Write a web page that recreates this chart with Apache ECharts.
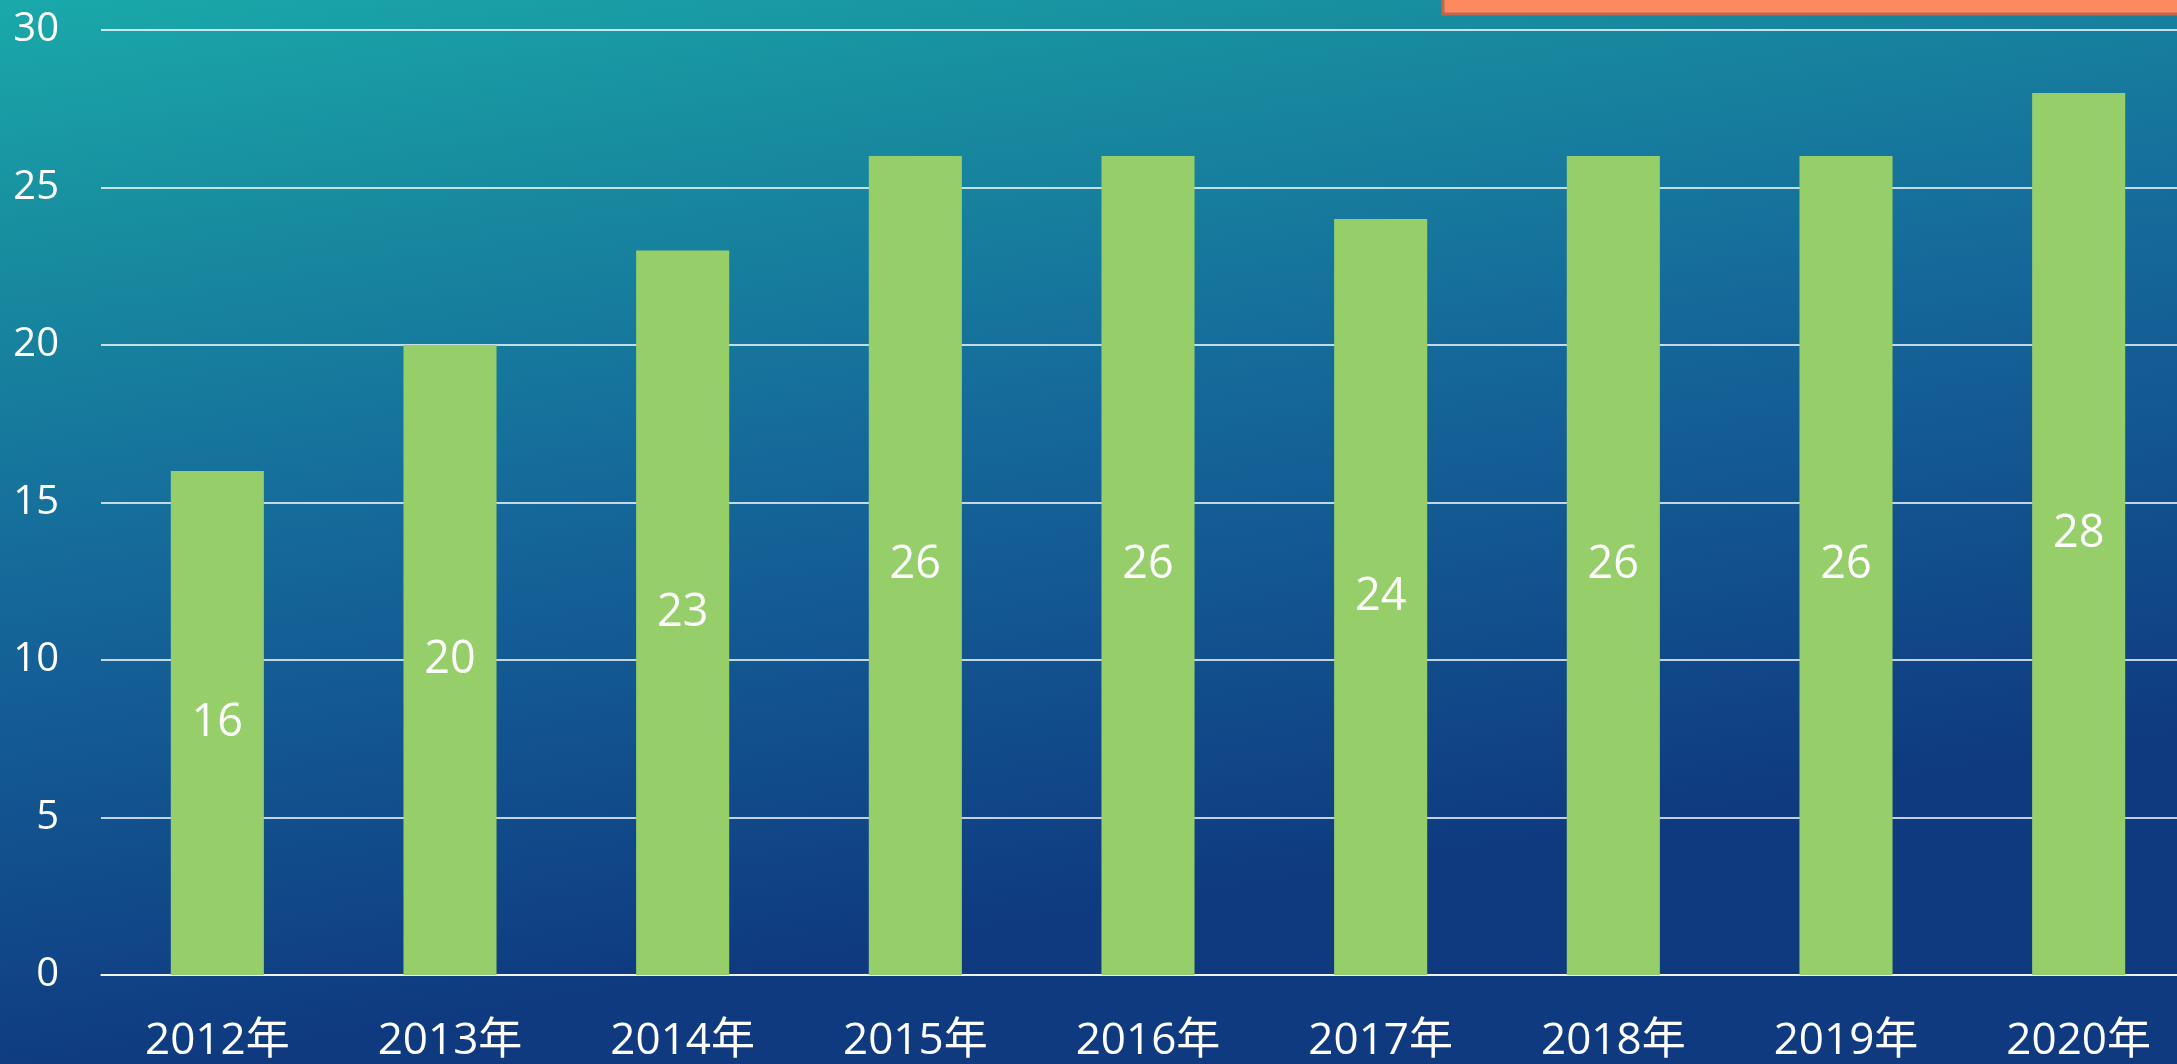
<!DOCTYPE html>
<html>
<head>
<meta charset="utf-8">
<script src="https://cdn.jsdelivr.net/npm/echarts@6/dist/echarts.min.js"></script>
<style>
  html, body { margin: 0; padding: 0; }
  #main { width: 2177px; height: 1064px; }
</style>
</head>
<body>
<div id="main"></div>
<script>
// data
const years = ['2012年', '2013年', '2014年', '2015年', '2016年', '2017年', '2018年', '2019年', '2020年']
const counts = [16, 20, 23, 26, 26, 24, 26, 26, 28]
const yTicks = [0, 5, 10, 15, 20, 25, 30]

const font = "'Open Sans', 'Noto Sans CJK SC', sans-serif"
const myChart = echarts.init(document.getElementById('main'))

const option = {
  backgroundColor: {
    type: 'linear', x: 0, y: 0, x2: 0.08, y2: 1,
    colorStops: [
      { offset: 0, color: '#1AA9AA' },
      { offset: 0.2, color: '#1890A0' },
      { offset: 0.55, color: '#15679A' },
      { offset: 1, color: '#0F3A80' }
    ]
  },
  animation: false,
  // plot runs past the right edge of the canvas
  grid: { left: 101, width: 2094, top: 30, height: 945, outerBoundsMode: 'none' },
  graphic: [
    {
      // orange title box cut off at the top
      type: 'rect',
      shape: { x: 1443, y: -12, width: 780, height: 26 },
      style: { fill: '#FC8A60', stroke: '#C4664A', lineWidth: 3 }
    }
  ],
  xAxis: {
    type: 'category',
    data: years,
    boundaryGap: true,
    axisLine: { show: true, lineStyle: { color: '#ffffff', width: 1.5 } },
    axisTick: { show: false },
    axisLabel: { color: '#ffffff', fontSize: 44, fontFamily: font, margin: 44 }
  },
  yAxis: {
    type: 'value',
    min: yTicks[0],
    max: yTicks[yTicks.length - 1],
    interval: 5,
    axisLine: { show: false },
    axisTick: { show: false },
    splitLine: { lineStyle: { color: '#ffffff', width: 1.5 } },
    axisLabel: { color: '#ffffff', fontSize: 40, fontFamily: font, margin: 42 }
  },
  series: [
    {
      type: 'bar',
      data: counts,
      barWidth: '40%',
      itemStyle: { color: '#96CF69' },
      label: {
        show: true,
        position: 'inside',
        color: '#ffffff',
        fontSize: 45,
        fontFamily: font
      }
    }
  ]
}
myChart.setOption(option)
</script>
</body>
</html>
